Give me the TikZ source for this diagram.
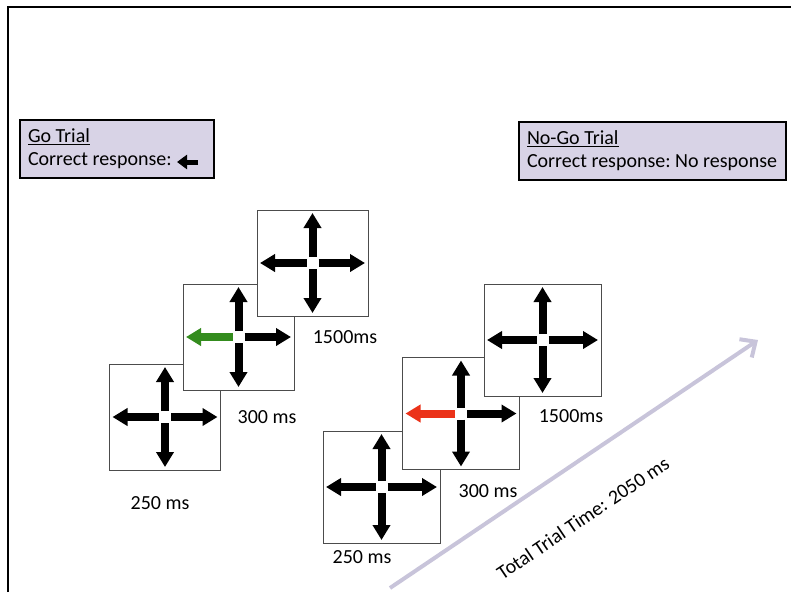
\documentclass[tikz,border=0pt]{standalone}
\usepackage{fontspec}
\setmainfont{Carlito}
\usetikzlibrary{arrows.meta}
\usetikzlibrary{calc}
\definecolor{boxfill}{RGB}{216,211,230}
\definecolor{gocol}{RGB}{52,140,30}
\definecolor{stopcol}{RGB}{235,50,25}
\definecolor{timecol}{RGB}{200,196,218}
\tikzstyle{trialbox} = [rectangle, draw=black, fill=boxfill, line width=2pt, align=flush left, inner sep=8pt, minimum height=58pt]
\tikzstyle{stim} = [rectangle, draw=black!70, fill=white, line width=1pt, outer sep=0pt, minimum width=111pt, minimum height=106pt]
\tikzstyle{stimbig} = [stim, minimum width=117pt, minimum height=112pt]
\tikzstyle{arm} = [line width=8pt, -{Triangle[length=15pt,width=17pt]}]
\tikzstyle{resp} = [line width=5pt, -{Triangle[length=10pt,width=14pt]}]
\tikzstyle{timeline} = [line width=4pt, draw=timecol, -{Straight Barb[length=12pt,width=22pt]}]
\tikzstyle{dur} = [inner sep=0pt]
% four arms of a stimulus, #2 = colour of the left one
\newcommand{\arms}[2]{
\draw [arm,#2] ($(#1.center)+(-6,0)$) -- ($(#1.west)+(3,0)$);
\draw [arm] ($(#1.center)+(6,0)$) -- ($(#1.east)+(-3,0)$);
\draw [arm] ($(#1.center)+(0,-6)$) -- ($(#1.north)+(0,3)$);
\draw [arm] ($(#1.center)+(0,6)$) -- ($(#1.south)+(0,-3)$);
}

\begin{document}
\begin{tikzpicture}[x=1pt,y=-1pt,every node/.style={font=\fontsize{20}{23}\selectfont}]
\useasboundingbox (0,0) rectangle (791,592);
\draw [line width=2pt] (8,592) -- (8,7) -- (791,7);

\node (go) [trialbox, text width=178pt] at (117,149) {\underline{Go Trial}\\Correct~response:};
\draw [resp] ($(go.south east)+(-17,-17)$) -- ($(go.south east)+(-38,-17)$);
\node (nogo) [trialbox, text width=251pt] at (652.5,150.5) {\underline{No-Go Trial}\\Correct~response:~No~response};

%go trial
\node (ga) [stim] at (165,417) {};
\arms{ga}{black}
\node (gb) [stim] at (238.5,337) {};
\arms{gb}{gocol}
\node (gc) [stim] at (312.5,263) {};
\arms{gc}{black}
\node (ta) [dur] at (160,503) {250 ms};
\node (tb) [dur] at (267,417) {300 ms};
\node (tc) [dur] at (345,337) {1500ms};

%no-go trial
\node (na) [stimbig] at (381.5,487) {};
\arms{na}{black}
\node (nb) [stimbig] at (461,413.5) {};
\arms{nb}{stopcol}
\node (nc) [stimbig] at (542.5,340) {};
\arms{nc}{black}
\node (sa) [dur] at (362,557) {250 ms};
\node (sb) [dur] at (488,491) {300 ms};
\node (sc) [dur] at (571,416) {1500ms};

\coordinate (ts) at (390,588);
\coordinate (te) at (758,340);
\draw [timeline] (ts) -- (te);
\node (tt) [rotate=34] at (583,518) {Total Trial Time: 2050 ms};

\end{tikzpicture}
\end{document}
